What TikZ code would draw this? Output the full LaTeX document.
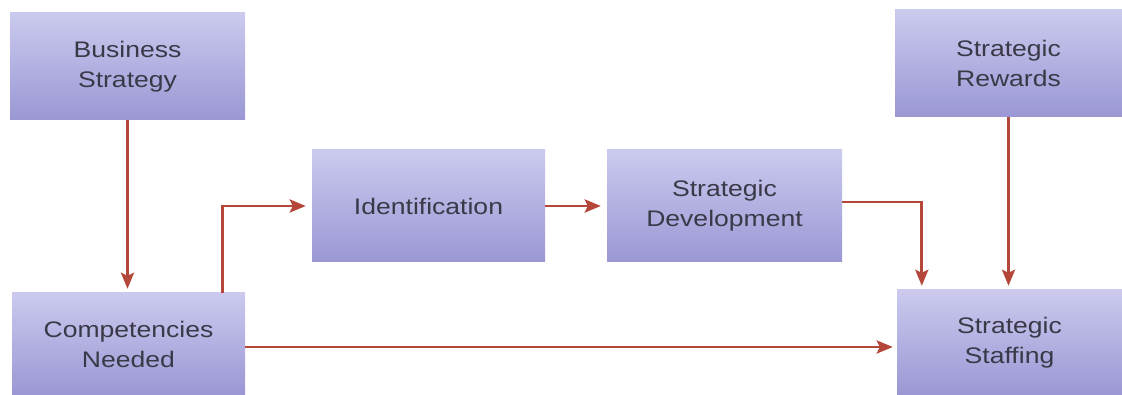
\documentclass[tikz,border=0pt]{standalone}
\usepackage{fontspec}
\setmainfont[FakeStretch=1.18]{Liberation Sans}
\usetikzlibrary{arrows.meta,calc}
\definecolor{boxtop}{HTML}{CBCAEE}
\definecolor{boxbot}{HTML}{9A97D4}
\definecolor{arrowred}{HTML}{B5473A}
\definecolor{txt}{HTML}{3A3948}
\tikzset{
  box/.style={rectangle, top color=boxtop, bottom color=boxbot, draw=none,
    inner sep=0pt, align=center, text=txt,
    font=\fontsize{22.5}{30}\selectfont},
  conn/.style={draw=arrowred, line width=2.8pt,
    -{Stealth[length=16pt,width=13pt,inset=3pt]}, shorten >=4pt}
}
\begin{document}
\begin{tikzpicture}[x=1pt,y=1pt]
\useasboundingbox (0,0) rectangle (1122,395);
\node[box, minimum width=235pt, minimum height=107pt] (bs) at (127.5,328.5) {Business\\Strategy};
\node[box, minimum width=233pt, minimum height=102pt] (cn) at (128.5,51) {Competencies\\Needed};
\node[box, minimum width=233pt, minimum height=112pt] (id) at (428.5,189) {Identification};
\node[box, minimum width=235pt, minimum height=112pt] (sd) at (724.5,189) {Strategic\\Development};
\node[box, minimum width=227pt, minimum height=107pt] (sr) at (1008.5,331.5) {Strategic\\Rewards};
\node[box, minimum width=225pt, minimum height=105pt] (ss) at (1009.5,52.5) {Strategic\\Staffing};
\draw[conn] (bs.south) -- (bs.south |- cn.north);
\draw[conn, shorten >=6pt] ([xshift=-23pt]cn.north east) |- (id.west);
\draw[conn, shorten >=6pt] (id.east) -- (sd.west);
\draw[conn] ([yshift=4pt]sd.east) -| ([xshift=25pt]ss.north west);
\draw[conn] (sr.south) -- (sr.south |- ss.north);
\draw[conn] ([yshift=-3pt]cn.east) -- ([yshift=-3pt]cn.east -| ss.west);
\end{tikzpicture}
\end{document}
